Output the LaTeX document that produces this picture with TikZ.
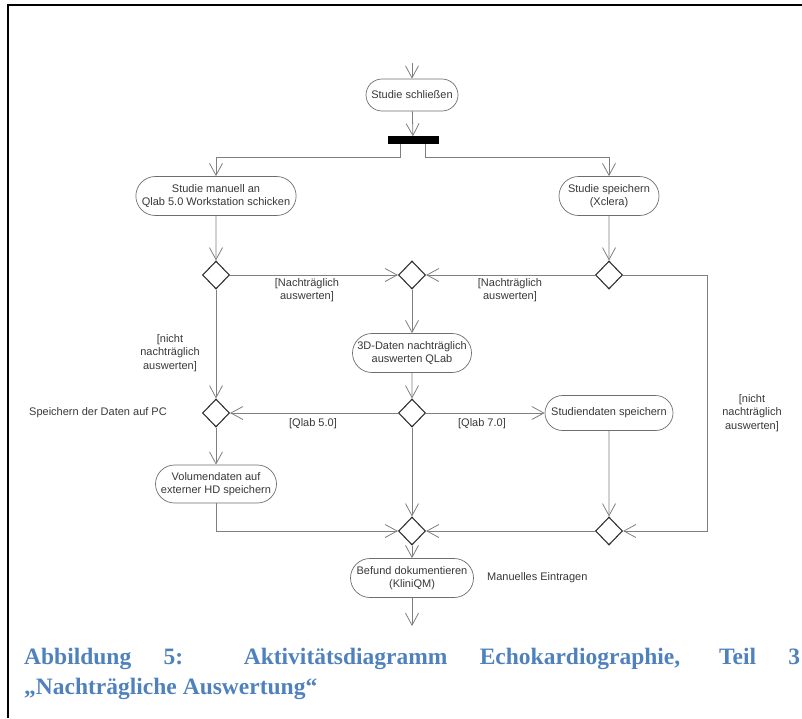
\documentclass[tikz,border=0pt]{standalone}
\usepackage{fontspec}
\setmainfont{Liberation Sans}
\newfontfamily\capfont{Liberation Serif}
\usetikzlibrary{arrows.meta,shapes.geometric,shapes.misc}

\definecolor{linegray}{HTML}{7F7F7F}
\definecolor{nodegray}{HTML}{6E6E6E}
\definecolor{decgray}{HTML}{303030}
\definecolor{txtgray}{HTML}{383838}
\definecolor{capblue}{HTML}{4F81BD}

\newcommand\diagfont{\fontsize{11}{13.5}\selectfont}

\tikzset{
  act/.style={rounded rectangle, draw=nodegray, line width=0.7pt, fill=white,
    align=center, inner sep=2pt, font=\diagfont, text=txtgray},
  dec/.style={diamond, draw=decgray, line width=1.1pt, fill=white,
    minimum width=27pt, minimum height=28pt, inner sep=0pt},
  forkbar/.style={rectangle, fill=black, draw=black, minimum width=50pt,
    minimum height=7pt, inner sep=0pt},
  flow/.style={draw=linegray, line width=0.8pt,
    -{Straight Barb[length=12pt,width=13pt]}},
  plain/.style={draw=linegray, line width=0.8pt},
  lbl/.style={font=\diagfont, text=txtgray, align=center, inner sep=0pt},
}

\begin{document}
\begin{tikzpicture}[x=1pt,y=-1pt]
  \useasboundingbox (0,0) rectangle (802,718);

  % frame lines on the left and top
  \draw[line width=2.6pt] (8,718) -- (8,5) -- (802,5);

  % activities and decisions
  \coordinate (in) at (412,63);
  \node[act, minimum width=96pt, minimum height=32pt] (schl) at (412,95) {Studie schließen};
  \node[forkbar] (bar) at (413,140) {};
  \node[act, minimum width=158pt, minimum height=39pt] (send) at (216,196)
    {Studie manuell an\\Qlab 5.0 Workstation schicken};
  \node[act, minimum width=104pt, minimum height=39pt] (save) at (609,196)
    {Studie speichern\\(Xclera)};

  \node[dec] (d1) at (216,275) {};
  \node[dec] (d2) at (412,275) {};
  \node[dec] (d3) at (609,275) {};

  \node[act, minimum width=123pt, minimum height=39pt] (eval) at (412,353)
    {3D-Daten nachträglich\\auswerten QLab};

  \node[dec] (d4) at (216,413) {};
  \node[dec] (d6) at (412,413) {};
  \node[act, minimum width=132pt, minimum height=35pt] (study) at (609,413)
    {Studiendaten speichern};

  \node[act, minimum width=125pt, minimum height=38pt] (vol) at (216,484)
    {Volumendaten auf\\externer HD speichern};

  \node[dec] (d7) at (412,531) {};
  \node[dec] (d5) at (609,531) {};

  \node[act, minimum width=127pt, minimum height=39pt] (doc) at (412,578)
    {Befund dokumentieren\\(KliniQM)};
  \coordinate (out) at (412,626);
  \coordinate (rx) at (707,0);

  % control flow
  \draw[flow] (in) -- (schl);
  \draw[flow] (schl) -- (bar);
  \draw[flow] ([xshift=-13pt]bar.south) -- ++(0,13.5) -| (send.north);
  \draw[flow] ([xshift=12pt]bar.south) -- ++(0,13.5) -| (save.north);
  \draw[flow] (send) -- (d1);
  \draw[flow] (save) -- (d3);
  \draw[flow] (d1) -- (d2);
  \draw[flow] (d3) -- (d2);
  \draw[flow] (d3.east) -- (d3.east -| rx) |- (d5.east);
  \draw[flow] (d1) -- (d4);
  \draw[flow] (d2) -- (eval);
  \draw[flow] (eval) -- (d6);
  \draw[flow] (d6) -- (d4);
  \draw[flow] (d6) -- (study);
  \draw[flow] (d4) -- (vol);
  \draw[flow] (vol.south) |- (d7.west);
  \draw[flow] (d6) -- (d7);
  \draw[flow] (study) -- (d5);
  \draw[flow] (d5) -- (d7);
  \draw[flow] (d7) -- (doc);
  \draw[flow] (doc) -- (out);

  % guards and notes
  \node[lbl] (g1) at (307,290) {[Nachträglich\\auswerten]};
  \node[lbl] (g2) at (510,290) {[Nachträglich\\auswerten]};
  \node[lbl] (g3) at (170,353) {[nicht\\nachträglich\\auswerten]};
  \node[lbl] (g4) at (752,413) {[nicht\\nachträglich\\auswerten]};
  \node[lbl] (g5) at (313,424) {[Qlab 5.0]};
  \node[lbl] (g6) at (482,424) {[Qlab 7.0]};
  \node[lbl] (pc) at (98,413) {Speichern der Daten auf PC};
  \node[lbl, anchor=west] (man) at (487,578) {Manuelles Eintragen};

  % figure caption
  \node[anchor=north west, inner sep=0pt, text width=776pt, align=justify,
    font=\capfont\bfseries\fontsize{23.5}{29.5}\selectfont, text=capblue] (cap) at (24,648)
    {Abbildung 5: Aktivitätsdiagramm Echokardiographie, Teil 3\linebreak
     „Nachträgliche Auswertung“};
\end{tikzpicture}
\end{document}
